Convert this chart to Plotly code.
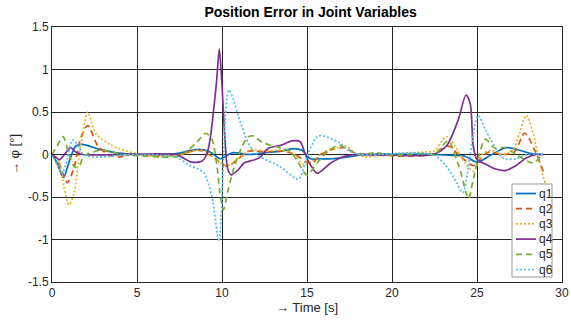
import plotly.graph_objects as go

# ---- data (time [s], error [deg]) ----
t_q1 = [0, 0.3, 0.67, 1.05, 1.4, 1.8, 2.8, 3.8, 5.0, 7.3, 8.0, 8.7, 9.3, 9.9, 10.6, 11.6, 12.5, 13.5, 14.2, 14.7, 15.2, 15.8, 16.5, 17.3, 18.5, 22.5, 23.5, 24.3, 25.0, 25.8, 26.7, 27.5, 28.2, 28.9]
v_q1 = [0, -0.1, -0.27, -0.06, 0.1, 0.12, 0.06, 0.02, 0, 0.01, 0.04, 0.06, 0.03, -0.05, 0.02, 0.0, 0.02, 0.04, 0.07, 0.05, -0.05, -0.05, -0.05, -0.03, 0, 0, -0.01, -0.02, -0.09, -0.01, 0.08, 0.05, 0.01, 0]

t_q2 = [0, 0.4, 0.9, 1.3, 1.7, 2.1, 2.7, 3.3, 3.9, 4.6, 6.5, 7.5, 8.5, 9.0, 9.6, 10.3, 10.9, 11.6, 12.5, 13.5, 14.3, 14.9, 15.3, 15.8, 16.5, 17.2, 17.8, 18.5, 22.3, 23.3, 23.9, 24.8, 25.2, 25.7, 26.5, 27.2, 27.8, 28.4, 28.9]
v_q2 = [0, -0.1, -0.33, -0.15, 0.2, 0.34, 0.1, 0.0, -0.03, 0, -0.01, 0, 0.05, 0.03, -0.05, -0.14, -0.06, 0.04, 0.03, 0.04, 0.0, -0.08, -0.1, 0.0, 0.06, 0.08, 0.02, 0, 0, 0.1, 0.0, -0.13, -0.05, 0.03, 0.0, 0.03, 0.25, 0.05, -0.2]

t_q3 = [0, 0.4, 0.7, 1.0, 1.3, 1.65, 1.9, 2.1, 2.6, 3.4, 4.4, 5.5, 6.5, 7.5, 8.5, 9.0, 9.6, 10.3, 11.0, 11.7, 12.5, 13.5, 14.2, 14.8, 15.3, 16.0, 16.8, 17.3, 17.8, 18.5, 19.5, 21.0, 22.0, 22.5, 23.2, 23.7, 24.3, 24.8, 25.3, 25.8, 26.5, 27.1, 27.5, 27.9, 28.3, 28.6, 29.0]
v_q3 = [0, -0.08, -0.38, -0.59, -0.45, 0.06, 0.35, 0.5, 0.24, 0.12, 0.04, -0.01, -0.03, -0.01, 0.05, 0.04, -0.05, -0.13, -0.04, 0.06, 0.04, 0.05, 0.0, -0.12, -0.08, 0.03, 0.08, 0.1, 0.02, -0.03, 0, 0.02, 0.03, 0.04, 0.21, 0.1, -0.1, -0.2, 0.0, 0.05, 0.0, 0.05, 0.25, 0.46, 0.25, -0.02, -0.34]

t_q4 = [0, 0.2, 0.45, 0.8, 1.1, 1.4, 1.8, 7.3, 7.8, 8.2, 8.8, 9.1, 9.3, 9.49, 9.69, 9.84, 9.98, 10.2, 10.35, 10.55, 11.0, 11.3, 12.2, 12.7, 13.5, 14.1, 14.6, 14.9, 15.2, 15.6, 16.4, 17.2, 18.0, 22.4, 23.2, 23.9, 24.35, 24.6, 24.78, 25.0, 25.57, 26.1, 26.65, 27.3, 27.9, 28.5, 28.9]
v_q4 = [0, -0.03, -0.06, 0.02, 0.08, 0.03, 0.0, 0, -0.05, -0.09, -0.08, 0.0, 0.18, 0.49, 0.88, 1.24, 0.88, 0.1, -0.18, -0.24, -0.17, -0.1, -0.04, 0.07, 0.11, 0.16, 0.15, 0.0, -0.12, -0.22, -0.1, -0.02, 0, 0, 0.1, 0.41, 0.7, 0.6, 0.1, -0.06, -0.12, -0.17, -0.19, -0.13, -0.04, 0, 0]

t_q5 = [0, 0.3, 0.65, 1.0, 1.35, 1.65, 1.85, 2.9, 3.5, 4.2, 7.5, 8.0, 8.5, 9.05, 9.4, 9.7, 9.88, 10.08, 10.37, 10.67, 11.06, 11.5, 11.8, 12.4, 13.0, 14.0, 14.5, 15.0, 15.6, 16.3, 16.9, 17.5, 18.2, 19.0, 20.0, 21.0, 22.0, 22.5, 23.3, 23.8, 24.1, 24.5, 24.78, 25.1, 25.5, 26.0, 26.6, 27.3, 28.3, 28.8]
v_q5 = [0, 0.1, 0.21, 0.0, -0.15, -0.12, -0.02, 0.05, 0.03, 0, -0.02, 0.05, 0.14, 0.25, 0.18, -0.13, -0.45, -0.65, -0.41, -0.18, 0.04, 0.2, 0.22, 0.14, 0.1, 0.04, -0.1, -0.24, -0.1, 0.05, 0.11, 0.05, 0.0, 0.02, -0.01, 0.0, 0.01, 0.0, 0.16, -0.06, -0.25, -0.52, -0.29, -0.02, 0.18, 0.08, 0.08, 0.0, -0.1, 0.0]

t_q6 = [0, 0.3, 0.6, 0.9, 1.2, 1.5, 1.85, 2.5, 3.5, 4.5, 7.3, 8.1, 8.6, 8.95, 9.4, 9.82, 10.08, 10.2, 10.4, 10.67, 10.96, 11.65, 12.2, 13.4, 14.5, 15.0, 15.67, 16.9, 17.5, 18.2, 22.4, 23.2, 23.8, 24.16, 24.6, 24.9, 25.08, 25.5, 26.2, 26.6, 27.3, 28.0, 28.9]
v_q6 = [0, -0.12, -0.22, -0.05, 0.17, 0.12, 0.0, -0.03, -0.02, 0, -0.03, -0.13, -0.17, -0.22, -0.49, -1.02, -0.1, 0.45, 0.76, 0.65, 0.45, 0.1, -0.02, -0.14, -0.29, -0.02, 0.22, 0.14, 0.04, 0, 0, -0.14, -0.33, -0.45, 0.0, 0.37, 0.46, 0.29, 0.04, -0.05, -0.05, 0.0, 0]

names = ["q1", "q2", "q3", "q4", "q5", "q6"]
colors = ["#0072BD", "#D95319", "#EDB120", "#7E2F8E", "#77AC30", "#4DBEEE"]
dashes = ["solid", "6px,4px", "2px,2px", "solid", "6px,4px", "2px,2px"]

x_ticks = [0, 5, 10, 15, 20, 25, 30]
y_ticks = [-1.5, -1, -0.5, 0, 0.5, 1, 1.5]
y_tick_text = ["-1.5", "-1", "-0.5", "0", "0.5", "1", "1.5"]

series_t = [t_q1, t_q2, t_q3, t_q4, t_q5, t_q6]
series_v = [v_q1, v_q2, v_q3, v_q4, v_q5, v_q6]

FONT = "Liberation Sans, Arial, Helvetica, sans-serif"
TXT = "#262626"

# figure geometry (pixels)
W, H = 571, 320
ML, MR, MT, MB = 52, 9, 27, 38
PW, PH = W - ML - MR, H - MT - MB

def px_x(px):
    return (px - ML) / PW

def px_y(py):
    return (H - MB - py) / PH

fig = go.Figure()
for name, tt, vv, c, d in zip(names, series_t, series_v, colors, dashes):
    fig.add_trace(go.Scatter(
        x=tt, y=vv, mode="lines", name=name, showlegend=False,
        line=dict(color=c, width=1.7, dash=d, shape="spline", smoothing=0.8),
    ))

axis_common = dict(
    showline=True, mirror=True, linecolor=TXT, linewidth=1,
    showgrid=True, gridcolor=TXT, gridwidth=1, automargin=False,
    zeroline=False, ticks="inside", ticklen=3, tickcolor=TXT,
    tickfont=dict(family=FONT, size=12, color=TXT),
)

# legend box drawn in the MATLAB style (compact)
shapes = [dict(type="rect", xref="paper", yref="paper",
               x0=px_x(512), x1=px_x(552), y0=px_y(277), y1=px_y(184),
               line=dict(color="#999999", width=1), fillcolor="white", layer="above")]
annotations = []
for i, (name, c, d) in enumerate(zip(names, colors, dashes)):
    yy = 193.5 + 15.2 * i
    shapes.append(dict(type="line", xref="paper", yref="paper",
                       x0=px_x(516), x1=px_x(536), y0=px_y(yy), y1=px_y(yy),
                       line=dict(color=c, width=1.7, dash=d), layer="above"))
    annotations.append(dict(text=name, xref="paper", yref="paper",
                            x=px_x(537), y=px_y(yy), xanchor="left", yanchor="middle",
                            showarrow=False, font=dict(family=FONT, size=12, color=TXT)))

fig.update_layout(
    width=W, height=H,
    margin=dict(l=ML, r=MR, t=MT, b=MB, autoexpand=False),
    paper_bgcolor="white", plot_bgcolor="white",
    title=dict(text="<b>Position Error in Joint Variables</b>", x=0.544, xanchor="center",
               y=1 - 12.5 / H, yanchor="middle", yref="container", automargin=False,
               font=dict(family=FONT, size=14, color="black")),
    xaxis=dict(range=[0, 30], tickvals=x_ticks, ticktext=[str(v) for v in x_ticks],
               title=dict(text="→ Time [s]", font=dict(family=FONT, size=13, color=TXT), standoff=3),
               **axis_common),
    yaxis=dict(range=[-1.5, 1.5], tickvals=y_ticks, ticktext=y_tick_text,
               title=dict(text="→ φ [°]", font=dict(family=FONT, size=13, color=TXT), standoff=5),
               **axis_common),
    shapes=shapes,
    annotations=annotations,
    showlegend=False,
)

fig.write_html("out.html", config={"displayModeBar": False, "staticPlot": True},
               post_script="document.body.style.margin='0';document.body.style.overflow='hidden';")
